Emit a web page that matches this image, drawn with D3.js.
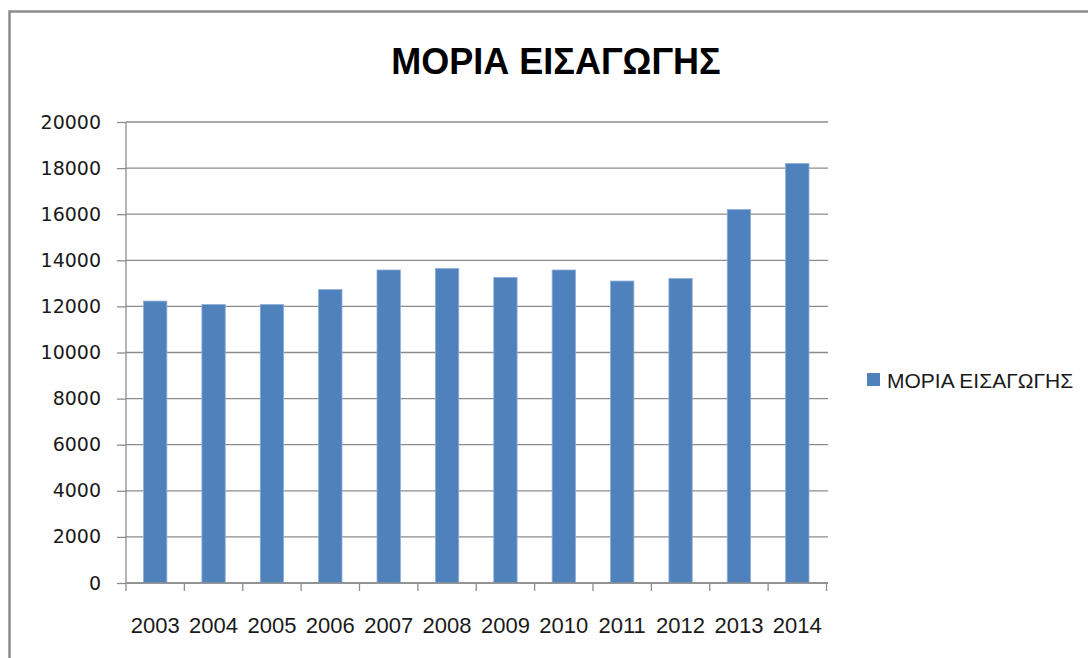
<!DOCTYPE html>
<html>
<head>
<meta charset="utf-8">
<script src="https://cdn.jsdelivr.net/npm/d3@7"></script>
<style>
  body { margin: 0; background: #fff; }
  svg { display: block; }
</style>
</head>
<body>
<script>
/*chart data*/
const years = ['2003','2004','2005','2006','2007','2008','2009','2010','2011','2012','2013','2014'];
const moria = [12230, 12080, 12080, 12730, 13580, 13640, 13260, 13580, 13100, 13210, 16200, 18200];
const yTicks = [0, 2000, 4000, 6000, 8000, 10000, 12000, 14000, 16000, 18000, 20000];
const titleText = 'ΜΟΡΙΑ ΕΙΣΑΓΩΓΗΣ';
const legendText = 'ΜΟΡΙΑ ΕΙΣΑΓΩΓΗΣ';

/*canvas size*/
const width = 1088;
const height = 658;
const plot = { left: 126, right: 826.5, top: 122, bottom: 583 };
const barColor = '#4f81bd';

const svg = d3.select('body').append('svg')
      .attr('width', width).attr('height', height);

/*outer chart border (right and bottom edges are off the picture)*/
svg.append('rect')
   .attr('x', 9.5).attr('y', 11.5)
   .attr('width', 1200).attr('height', 800)
   .attr('fill', 'none').attr('stroke', '#8c8c8c').attr('stroke-width', 2.5);

/*scales*/
const xScale = d3.scaleBand().domain(years).range([plot.left, plot.right]);
const yScale = d3.scaleLinear().domain([0, 20000]).range([plot.bottom, plot.top]);

/*gridlines + y axis*/
const yAxis = svg.append('g').attr('class', 'yAxis')
   .attr('transform', 'translate(' + plot.left + ',0)')
   .call(d3.axisLeft(yScale).tickValues(yTicks).tickSize(9).tickPadding(16).tickFormat(d3.format('d')));
yAxis.select('.domain').remove();
yAxis.selectAll('.tick line').attr('stroke', '#8c8c8c').attr('stroke-width', 1.3);
yAxis.selectAll('.tick text')
   .attr('font-family', 'DejaVu Sans').attr('font-size', 19).attr('fill', '#1a1a1a');

svg.append('g').attr('class', 'grid').selectAll('line').data(yTicks).enter().append('line')
   .attr('x1', plot.left).attr('x2', plot.right + 1.5)
   .attr('y1', d => yScale(d)).attr('y2', d => yScale(d))
   .attr('stroke', '#8c8c8c').attr('stroke-width', 1.3);

/*bars (gap width 150%)*/
const barW = xScale.bandwidth() / 2.5;
svg.append('g').selectAll('rect').data(moria).enter().append('rect')
   .attr('x', (d, i) => xScale(years[i]) + (xScale.bandwidth() - barW) / 2)
   .attr('y', d => yScale(d))
   .attr('width', barW)
   .attr('height', d => yScale(0) - yScale(d))
   .attr('fill', barColor)
   .attr('stroke', '#8fadd6').attr('stroke-width', 0.8);

/*y axis line*/
svg.append('line')
   .attr('x1', plot.left).attr('x2', plot.left)
   .attr('y1', plot.top).attr('y2', plot.bottom)
   .attr('stroke', '#8c8c8c').attr('stroke-width', 1.3);

/*x axis with ticks between categories*/
const xAxis = svg.append('g').attr('class', 'xAxis')
   .attr('transform', 'translate(0,' + plot.bottom + ')')
   .call(d3.axisBottom(xScale).tickSize(0).tickPadding(34));
xAxis.select('.domain').attr('stroke', '#8c8c8c').attr('stroke-width', 1.3)
   .attr('d', 'M' + plot.left + ',0H' + (plot.right + 1.5));
xAxis.selectAll('.tick text')
   .attr('font-family', 'Liberation Sans').attr('font-size', 22).attr('fill', '#1a1a1a');

const bounds = years.map(y => xScale(y)).concat([xScale(years[years.length - 1]) + xScale.bandwidth()]);
xAxis.append('g').selectAll('line').data(bounds).enter().append('line')
   .attr('x1', d => d).attr('x2', d => d)
   .attr('y1', 0).attr('y2', 8)
   .attr('stroke', '#8c8c8c').attr('stroke-width', 1.3);

/*title*/
svg.append('text')
   .attr('x', 556).attr('y', 74)
   .attr('text-anchor', 'middle')
   .attr('font-family', 'Liberation Sans').attr('font-weight', 'bold')
   .attr('font-size', 36).attr('fill', '#000')
   .text(titleText);

/*legend*/
const legend = svg.append('g').attr('transform', 'translate(867,373)');
legend.append('rect').attr('width', 13).attr('height', 13).attr('fill', barColor);
legend.append('text')
   .attr('x', 20).attr('y', 14.5)
   .attr('font-family', 'Liberation Sans').attr('font-size', 21).attr('fill', '#1a1a1a')
   .text(legendText);
</script>
</body>
</html>
